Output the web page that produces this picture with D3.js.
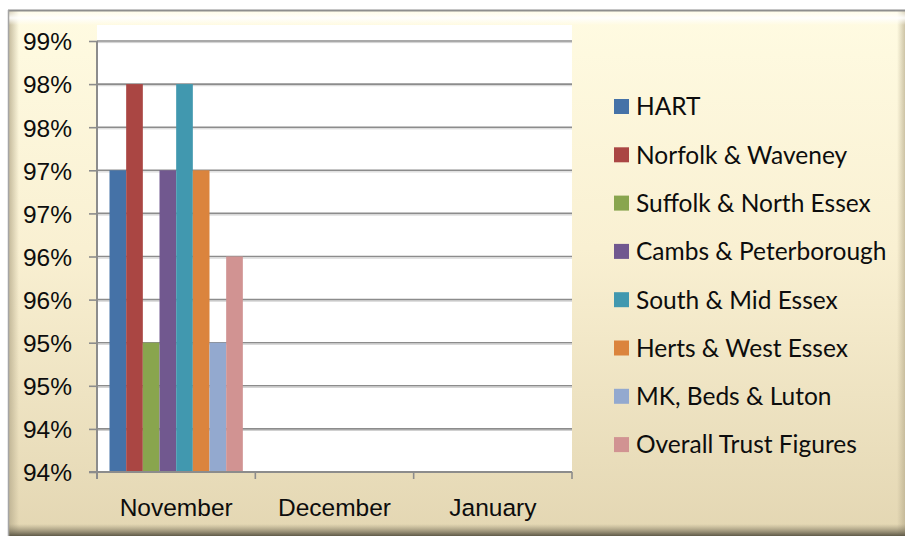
<!DOCTYPE html>
<html lang="en">
<head>
    <meta charset="UTF-8">
    <title>Trust Figures</title>
    <script src="https://d3js.org/d3.v7.min.js"></script>
    <style>
        body { margin: 0; background: #ffffff; }
        svg { display: block; font-family: Lato, "Open Sans", sans-serif; }
        .ylab, .xlab, .legend text { font-size: 24.5px; fill: #0d0d0d; }
    </style>
</head>
<body>
    <svg id="chart" width="905" height="536"></svg>

    <script>
        // months on the x axis
        var months = ["November", "December", "January"];

        // one entry per series, November only has figures
        var seriesNames = ["HART", "Norfolk & Waveney", "Suffolk & North Essex", "Cambs & Peterborough",
                           "South & Mid Essex", "Herts & West Essex", "MK, Beds & Luton", "Overall Trust Figures"];
        var seriesColors = ["#4572A7", "#AA4643", "#89A54E", "#71588F", "#4198AF", "#DB843D", "#93A9CF", "#D19392"];

        var hart        = [97.0, null, null];
        var norfolk     = [98.0, null, null];
        var suffolk     = [95.0, null, null];
        var cambs       = [97.0, null, null];
        var southMid    = [98.0, null, null];
        var hertsWest   = [97.0, null, null];
        var mkBeds      = [95.0, null, null];
        var overall     = [96.0, null, null];
        var seriesValues = [hart, norfolk, suffolk, cambs, southMid, hertsWest, mkBeds, overall];

        // Excel rounds the half-percent ticks to whole numbers
        var yTicks = [93.5, 94, 94.5, 95, 95.5, 96, 96.5, 97, 97.5, 98, 98.5];
        var yTickLabels = ["94%", "94%", "95%", "95%", "96%", "96%", "97%", "97%", "98%", "98%", "99%"];

        var svg = d3.select("#chart");
        var defs = svg.append("defs");

        // background gradient for the chart area
        var bg = defs.append("linearGradient").attr("id", "bg").attr("x1", 0).attr("y1", 0).attr("x2", 0).attr("y2", 1);
        bg.append("stop").attr("offset", "0%").attr("stop-color", "#fffbe2");
        bg.append("stop").attr("offset", "45%").attr("stop-color", "#f9f0d2");
        bg.append("stop").attr("offset", "100%").attr("stop-color", "#e3d6b2");

        var leftBevel = defs.append("linearGradient").attr("id", "leftBevel");
        leftBevel.append("stop").attr("offset", "0%").attr("stop-color", "#b8ad8e").attr("stop-opacity", 0.8);
        leftBevel.append("stop").attr("offset", "100%").attr("stop-color", "#b8ad8e").attr("stop-opacity", 0);

        var rightBevel = defs.append("linearGradient").attr("id", "rightBevel");
        rightBevel.append("stop").attr("offset", "0%").attr("stop-color", "#b8ad8e").attr("stop-opacity", 0);
        rightBevel.append("stop").attr("offset", "100%").attr("stop-color", "#b8ad8e").attr("stop-opacity", 0.7);

        var topBevel = defs.append("linearGradient").attr("id", "topBevel").attr("x1", 0).attr("y1", 0).attr("x2", 0).attr("y2", 1);
        topBevel.append("stop").attr("offset", "0%").attr("stop-color", "#ffffff").attr("stop-opacity", 0.2);
        topBevel.append("stop").attr("offset", "50%").attr("stop-color", "#ffffff").attr("stop-opacity", 0.9);
        topBevel.append("stop").attr("offset", "100%").attr("stop-color", "#ffffff").attr("stop-opacity", 0);

        var bottomBevel = defs.append("linearGradient").attr("id", "bottomBevel").attr("x1", 0).attr("y1", 0).attr("x2", 0).attr("y2", 1);
        bottomBevel.append("stop").attr("offset", "0%").attr("stop-color", "#8a8168").attr("stop-opacity", 0);
        bottomBevel.append("stop").attr("offset", "100%").attr("stop-color", "#5f5a48").attr("stop-opacity", 1);

        // frame
        svg.append("rect").attr("x", 8).attr("y", 10).attr("width", 905).attr("height", 530).attr("fill", "url(#bg)");
        svg.append("rect").attr("x", 9).attr("y", 11).attr("width", 10).attr("height", 525).attr("fill", "url(#leftBevel)");
        svg.append("rect").attr("x", 897).attr("y", 11).attr("width", 8).attr("height", 525).attr("fill", "url(#rightBevel)");
        svg.append("rect").attr("x", 9).attr("y", 11).attr("width", 900).attr("height", 14).attr("fill", "url(#topBevel)");
        svg.append("rect").attr("x", 9).attr("y", 524).attr("width", 900).attr("height", 12).attr("fill", "url(#bottomBevel)");
        svg.append("line").attr("x1", 8).attr("x2", 905).attr("y1", 10.5).attr("y2", 10.5).attr("stroke", "#8e8e8e").attr("stroke-width", 2);
        svg.append("line").attr("x1", 8.5).attr("x2", 8.5).attr("y1", 10).attr("y2", 536).attr("stroke", "#a5a5a5").attr("stroke-width", 1.5);

        var plot = { left: 97, right: 572, top: 41, bottom: 472 };

        // white plot area
        svg.append("rect").attr("x", plot.left).attr("y", 25)
            .attr("width", plot.right - plot.left).attr("height", plot.bottom - 25)
            .attr("fill", "#ffffff");

        var x = d3.scaleBand().domain(months).range([plot.left, plot.right]).padding(0);
        var xs = d3.scaleBand().domain(seriesNames).range([0, x.bandwidth()]).paddingInner(0).paddingOuter(0.75);
        var y = d3.scaleLinear().domain([93.5, 98.5]).range([plot.bottom, plot.top]);

        // gridlines
        svg.append("g").selectAll("line").data(yTicks.slice(1)).enter().append("line")
            .attr("x1", plot.left).attr("x2", plot.right)
            .attr("y1", d => y(d)).attr("y2", d => y(d))
            .attr("stroke", "#8c8c8c").attr("stroke-width", 1.6);
        svg.append("g").selectAll("line").data(yTicks.slice(1)).enter().append("line")
            .attr("x1", plot.left).attr("x2", plot.right)
            .attr("y1", d => y(d) + 1.6).attr("y2", d => y(d) + 1.6)
            .attr("stroke", "#d0d0d0").attr("stroke-width", 1);

        // bars
        var bars = [];
        seriesNames.forEach(function(name, i) {
            months.forEach(function(m, j) {
                if (seriesValues[i][j] != null) bars.push({ month: m, series: name, value: seriesValues[i][j], color: seriesColors[i] });
            });
        });
        svg.append("g").selectAll("rect").data(bars).enter().append("rect")
            .attr("x", d => x(d.month) + xs(d.series))
            .attr("y", d => y(d.value))
            .attr("width", xs.bandwidth())
            .attr("height", d => plot.bottom - y(d.value))
            .attr("fill", d => d.color);

        // y axis
        var yAxis = svg.append("g").attr("transform", "translate(" + plot.left + ",0)")
            .call(d3.axisLeft(y).tickValues(yTicks).tickSize(8).tickPadding(17)
                .tickFormat((d, i) => yTickLabels[i]));
        yAxis.select(".domain").attr("stroke", "#8c8c8c").attr("stroke-width", 2).attr("d", "M0," + plot.top + "V" + (plot.bottom + 7));
        yAxis.selectAll(".tick line").attr("stroke", "#8c8c8c").attr("stroke-width", 1.6);
        yAxis.selectAll(".tick text").attr("class", "ylab").attr("dy", "0.36em").style("font-size", "24.5px").attr("fill", "#0d0d0d");

        // x axis
        var xAxis = svg.append("g").attr("transform", "translate(0," + plot.bottom + ")")
            .call(d3.axisBottom(x).tickSize(0).tickPadding(27));
        xAxis.select(".domain").remove();
        xAxis.append("line").attr("x1", plot.left - 8).attr("x2", plot.right).attr("y1", 0).attr("y2", 0)
            .attr("stroke", "#8c8c8c").attr("stroke-width", 2);
        xAxis.selectAll(".tickmark").data(months.concat(["end"])).enter().append("line")
            .attr("x1", (d, i) => plot.left + i * x.bandwidth()).attr("x2", (d, i) => plot.left + i * x.bandwidth())
            .attr("y1", 0).attr("y2", 7).attr("stroke", "#8c8c8c").attr("stroke-width", 1.6);
        xAxis.selectAll(".tick text").attr("class", "xlab").attr("dy", "0.71em").style("font-size", "24.5px").attr("fill", "#0d0d0d");

        // legend
        var legend = svg.append("g").attr("class", "legend");
        var rows = legend.selectAll("g").data(seriesNames).enter().append("g")
            .attr("transform", (d, i) => "translate(614," + (106.5 + i * 48.3) + ")");
        rows.append("rect").attr("x", 0).attr("y", -7.5).attr("width", 15).attr("height", 15)
            .attr("fill", (d, i) => seriesColors[i]);
        rows.append("text").attr("x", 22).attr("dy", "0.36em").text(d => d);
    </script>
</body>
</html>
